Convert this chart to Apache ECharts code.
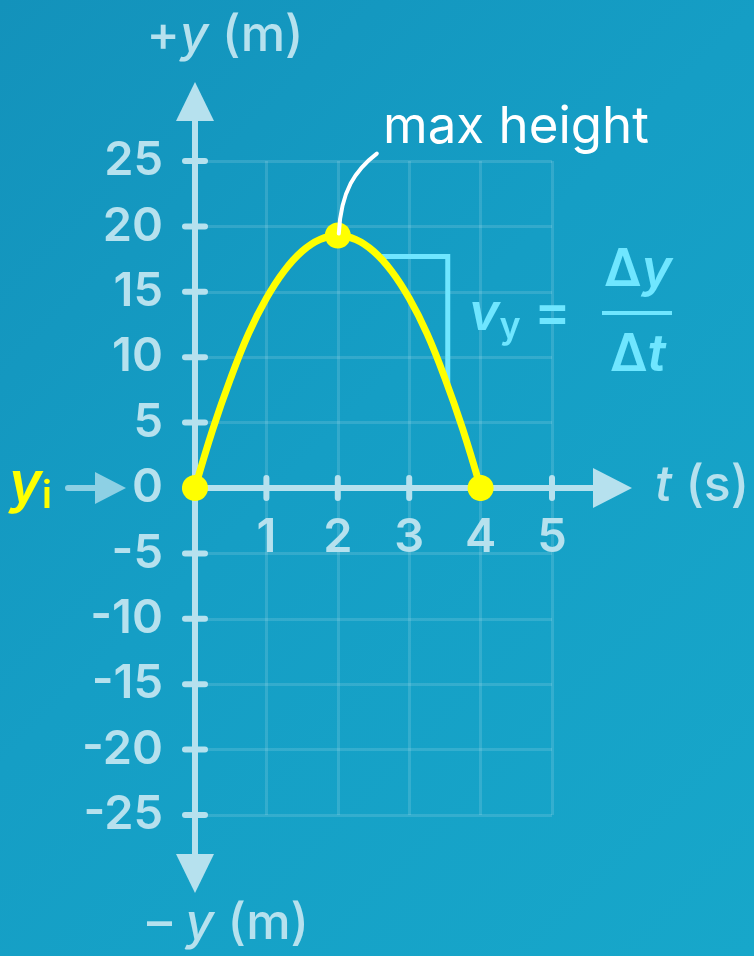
<!DOCTYPE html>
<html>
<head>
<meta charset="utf-8">
<script src="https://cdn.jsdelivr.net/npm/echarts@6/dist/echarts.min.js"></script>
<style>
  html, body { margin: 0; padding: 0; }
  #chart {
    width: 754px; height: 956px;
    background: linear-gradient(135deg, #1392bb 0%, #159ec5 45%, #17a7ca 100%);
  }
</style>
</head>
<body>
<div id="chart"></div>
<script>
// Height of a ball thrown straight up, sampled every quarter second
const times   = [0, 0.25, 0.5, 0.75, 1, 1.25, 1.5, 1.75, 2, 2.25, 2.5, 2.75, 3, 3.25, 3.5, 3.75, 4];
const heights = [0, 4.5, 8.4, 11.8, 14.5, 16.6, 18.1, 19.0, 19.3, 19.0, 18.1, 16.6, 14.5, 11.8, 8.4, 4.5, 0];

// Highlighted points: launch, top of flight, landing
const markerTimes   = [0, 2, 4];
const markerHeights = [0, 19.3, 0];

// Right-angle guide showing Δt and Δy on the way down
const slopeTimes   = [2.62, 3.54, 3.54];
const slopeHeights = [17.7, 17.7, 7.9];

// Axis ticks
const tTicks = [1, 2, 3, 4, 5];
const yTicks = [-25, -20, -15, -10, -5, 0, 5, 10, 15, 20, 25];

const AXIS = '#b6e1ee';
const GRID = 'rgba(255,255,255,0.13)';
const YELLOW = '#ffff00';
const CYAN = '#6fe6ff';
const FONT = 'Inter, "Noto Sans", sans-serif';

const chart = echarts.init(document.getElementById('chart'), null, { renderer: 'canvas' });

chart.setOption({
  animation: false,
  backgroundColor: 'transparent',
  grid: { left: 195, right: 202, top: 161, bottom: 141 },
  xAxis: {
    type: 'value', min: 0, max: 5, interval: 1,
    axisLine: { show: false },
    axisTick: { show: false },
    splitLine: { show: true, lineStyle: { color: GRID, width: 3 } },
    axisLabel: { show: false }
  },
  yAxis: {
    type: 'value', min: -25, max: 25, interval: 5,
    axisLine: { show: false },
    axisTick: { show: false },
    splitLine: { show: true, lineStyle: { color: GRID, width: 3 } },
    axisLabel: { color: AXIS, fontSize: 47, fontFamily: FONT, fontWeight: 600, margin: 32 }
  },
  series: [
    {
      type: 'line', smooth: 0.4, symbol: 'none', z: 5,
      lineStyle: { color: YELLOW, width: 7 },
      data: times.map((t, i) => [t, heights[i]])
    },
    {
      type: 'line', symbol: 'none', z: 4,
      lineStyle: { color: CYAN, width: 5, join: 'miter' },
      data: slopeTimes.map((t, i) => [t, slopeHeights[i]])
    },
    {
      type: 'scatter', symbolSize: 26, z: 6,
      itemStyle: { color: YELLOW, opacity: 1 },
      data: markerTimes.map((t, i) => [t, markerHeights[i]])
    }
  ]
});

// Axes with arrowheads, crossing ticks and the annotations around the plot
const px = (t, y) => chart.convertToPixel({ gridIndex: 0 }, [t, y]);
const o = px(0, 0);
const yTop = px(0, 25)[1];
const yBot = px(0, -25)[1];
const xEnd = px(5, 0)[0];
const peak = px(markerTimes[1], markerHeights[1]);

const g = [];
const stroke = (x1, y1, x2, y2, color, w, z) => g.push({
  type: 'line', z: z || 3, shape: { x1, y1, x2, y2 },
  style: { stroke: color, lineWidth: w, lineCap: 'round' }
});
const tri = (points, color, z) => g.push({
  type: 'polygon', z: z || 3, shape: { points }, style: { fill: color }
});
const text = (x, y, rich, align) => g.push({
  type: 'text', z: 7, x, y,
  style: { rich: rich.styles, text: rich.text, align: align || 'center', verticalAlign: 'middle' }
});

// vertical axis
stroke(o[0], yTop - 44, o[0], yBot + 42, AXIS, 6);
tri([[o[0], yTop - 79], [o[0] - 19, yTop - 40], [o[0] + 19, yTop - 40]], AXIS);
tri([[o[0], yBot + 78], [o[0] - 19, yBot + 39], [o[0] + 19, yBot + 39]], AXIS);
// horizontal axis
stroke(o[0], o[1], xEnd + 45, o[1], AXIS, 6);
tri([[xEnd + 80, o[1]], [xEnd + 41, o[1] - 20], [xEnd + 41, o[1] + 20]], AXIS);
// ticks crossing the axes
yTicks.forEach(v => { const p = px(0, v); stroke(p[0] - 10, p[1], p[0] + 10, p[1], AXIS, 6); });
tTicks.forEach(v => {
  const p = px(v, 0);
  stroke(p[0], p[1] - 10, p[0], p[1] + 10, AXIS, 6);
  text(p[0], p[1] + 50, { text: '{n|' + v + '}', styles: {
    n: { fontSize: 47, fontFamily: FONT, fontWeight: 600, fill: AXIS } } });
});

// initial-height pointer
stroke(68, o[1], 100, o[1], '#8dd0e4', 6);
tri([[126, o[1]], [95, o[1] - 16], [95, o[1] + 16]], '#8dd0e4');

// leader line to the top of the flight
g.push({
  type: 'bezierCurve', z: 8,
  shape: { x1: peak[0] + 1, y1: peak[1] - 2, x2: peak[0] + 39, y2: peak[1] - 82,
           cpx1: peak[0] + 3, cpy1: peak[1] - 45, cpx2: peak[0] + 18, cpy2: peak[1] - 66 },
  style: { stroke: '#ffffff', lineWidth: 4, fill: 'none', lineCap: 'round' }
});

const axisTitle = () => ({
  n: { fontSize: 50, fontFamily: FONT, fontWeight: 500, fill: AXIS },
  i: { fontSize: 50, fontFamily: FONT, fontWeight: 500, fontStyle: 'italic', fill: AXIS }
});

// labels
text(225, 36, { text: '{n|+}{i|y}{n| (m)}', styles: axisTitle() });
text(228, 924, { text: '{n|– }{i|y}{n| (m)}', styles: axisTitle() });
text(655, o[1] - 2, { text: '{i|t}{n| (s)}', styles: axisTitle() }, 'left');
text(9, o[1] - 3, { text: '{i|y}{s|i}', styles: {
  i: { fontSize: 56, fontFamily: FONT, fontWeight: 600, fontStyle: 'italic', fill: YELLOW },
  s: { fontSize: 38, fontFamily: FONT, fontWeight: 600, fill: YELLOW, padding: [24, 0, 0, 0] } } }, 'left');
text(383, 128, { text: '{m|max height}', styles: {
  m: { fontSize: 51, fontFamily: FONT, fontWeight: 400, fill: '#ffffff' } } }, 'left');

// v_y = Δy / Δt
text(469, 314, { text: '{v|v}{s|y}{n| =}', styles: {
  v: { fontSize: 52, fontFamily: FONT, fontWeight: 600, fontStyle: 'italic', fill: CYAN },
  s: { fontSize: 36, fontFamily: FONT, fontWeight: 600, fill: CYAN, padding: [26, 0, 0, 0] },
  n: { fontSize: 54, fontFamily: FONT, fontWeight: 600, fill: CYAN } } }, 'left');
text(638, 270, { text: '{n|Δ}{i|y}', styles: {
  n: { fontSize: 52, fontFamily: FONT, fontWeight: 600, fill: CYAN },
  i: { fontSize: 52, fontFamily: FONT, fontWeight: 600, fontStyle: 'italic', fill: CYAN } } });
g.push({ type: 'rect', z: 7, shape: { x: 602, y: 311, width: 70, height: 4 }, style: { fill: CYAN } });
text(638, 355, { text: '{n|Δ}{i|t}', styles: {
  n: { fontSize: 52, fontFamily: FONT, fontWeight: 600, fill: CYAN },
  i: { fontSize: 52, fontFamily: FONT, fontWeight: 600, fontStyle: 'italic', fill: CYAN } } });

chart.setOption({ graphic: { elements: g } });
</script>
</body>
</html>
